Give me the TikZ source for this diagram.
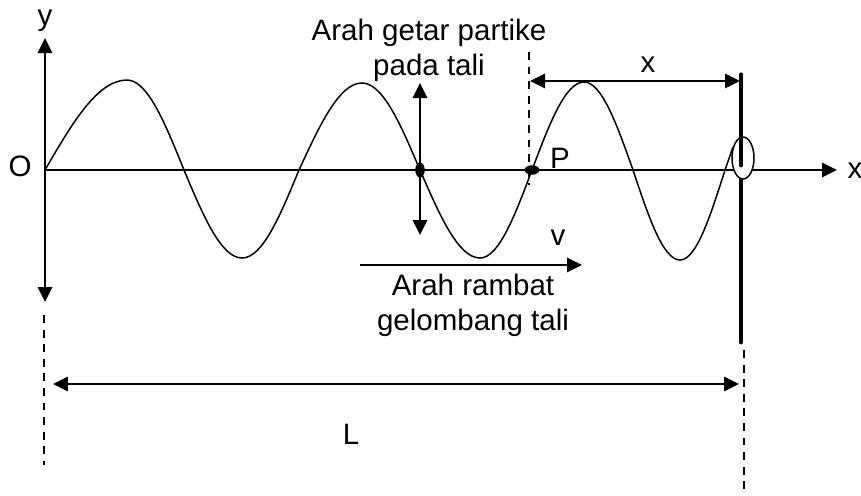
\documentclass[tikz,border=0pt]{standalone}
\usepackage{fontspec}
\setmainfont{Liberation Sans}
\usetikzlibrary{arrows.meta,shapes.geometric}

\tikzset{
  >={Triangle[length=0.3cm,width=0.29cm]},
  lbl/.style={inner sep=0pt, font=\fontsize{16.8}{20}\selectfont},
  guide/.style={dash pattern=on 4.5pt off 3.8pt},
  dot/.style={ellipse, fill=black, inner sep=0pt}
}

\begin{document}
\begin{tikzpicture}[x=0.02cm, y=-0.02cm, line width=0.85pt]
		\useasboundingbox (0,0) rectangle (861,495);

		% Axes
		\coordinate (O) at (45,170);
		\coordinate (ytop) at (45,38);
		\coordinate (ybot) at (45,302);
		\coordinate (xend) at (837,170);
		\draw[<->] (ytop) -- (ybot);
		\draw[->] (O) -- (xend);
		\node[lbl] (ylab) at (45,21) {y};
		\node[lbl] (olab) at (20,166) {O};
		\node[lbl] (xlab) at (855,171) {x};

		% The rope (quarter waves, slightly shorter towards the end)
		\draw (O) sin (127,80) cos (184,170) sin (242,258) cos (299,170)
		      sin (362,83) cos (420,170) sin (480,258) cos (532,170)
		      sin (584,82) cos (633,170) sin (680,260) cos (725,170) -- (733,147);

		% Particle vibrating up and down
		\node[dot, minimum width=0.19cm, minimum height=0.3cm] (Q) at (420,170) {};
		\coordinate (qtop) at (420,83);
		\coordinate (qbot) at (420,235);
		\draw[<->] (qtop) -- (qbot);
		\node[lbl, align=center] (getar) at (429,50) {Arah getar partike\\pada tali};

		% Point P
		\node[dot, minimum width=0.3cm, minimum height=0.19cm] (P) at (532,170) {};
		\coordinate (pend) at (593,170);
		\draw[line width=1.3pt] (P) -- (pend);
		\node[lbl] (plab) at (560,158) {P};

		% Distance x from P to the end
		\coordinate (dtop) at (529,52);
		\coordinate (dbot) at (529,185);
		\draw[guide] (dtop) -- (dbot);
		\coordinate (xa) at (530,81);
		\coordinate (xb) at (740,81);
		\draw[<->] (xa) -- (xb);
		\node[lbl] (xdist) at (648,65) {x};

		% Fixed end: thick bar and ring
		\coordinate (btop) at (741,75);
		\coordinate (bbot) at (741,342);
		\coordinate (bmid) at (741,165);
		\draw[line width=2.8pt, line cap=round] (btop) -- (bbot);
		\node[draw, fill=white, ellipse, inner sep=0pt, minimum width=0.44cm, minimum height=0.84cm] (ring) at (743,158) {};
		\draw[line width=2.8pt, line cap=round] (btop) -- (bmid);

		% Propagation direction
		\coordinate (va) at (360,265);
		\coordinate (vb) at (582,265);
		\draw[->] (va) -- (vb);
		\node[lbl] (vlab) at (558,238) {v};
		\node[lbl, align=center] (rambat) at (473,305) {Arah rambat\\gelombang tali};

		% Length L
		\coordinate (la) at (44,315);
		\coordinate (lb) at (44,465);
		\draw[guide] (la) -- (lb);
		\coordinate (ra) at (744,350);
		\coordinate (rb) at (744,495);
		\draw[guide] (ra) -- (rb);
		\coordinate (L1) at (53,384);
		\coordinate (L2) at (739,384);
		\draw[<->] (L1) -- (L2);
		\node[lbl] (llab) at (351,434) {L};

	\end{tikzpicture}
\end{document}
